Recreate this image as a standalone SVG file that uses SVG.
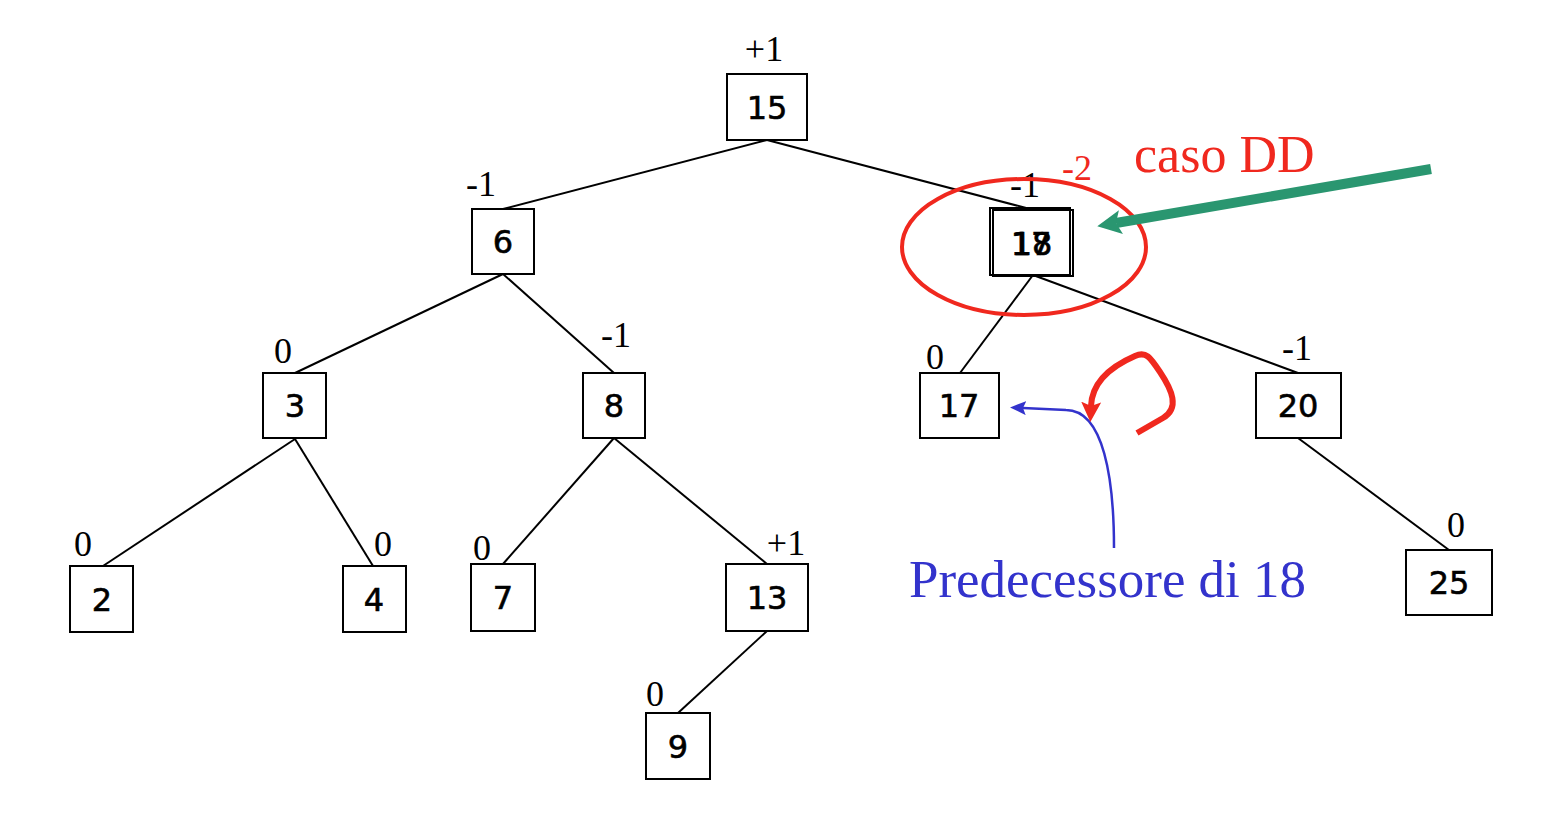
<svg xmlns="http://www.w3.org/2000/svg" width="1550" height="832" viewBox="0 0 1550 832">
<style>
.box{fill:#fff;stroke:#000;stroke-width:2}
.num{font-family:"Comic Sans MS","DejaVu Sans",sans-serif;font-size:32px;text-anchor:middle;fill:#000;stroke:#000;stroke-width:0.6}
.bal{font-family:"Liberation Serif","Times New Roman",serif;font-size:36px;text-anchor:middle;fill:#000}
.edge{stroke:#000;stroke-width:2;fill:none}
</style>
<defs>
<marker id="ag" markerUnits="userSpaceOnUse" markerWidth="26" markerHeight="26" refX="5" refY="12" orient="auto"><path d="M0,0 L24,12 L0,24 L5,12 Z" fill="#2a9670"/></marker>
<marker id="ab" markerUnits="userSpaceOnUse" markerWidth="18" markerHeight="16" refX="3" refY="7" orient="auto"><path d="M0,0 L16,7 L0,14 L3,7 Z" fill="#3333cc"/></marker>
<marker id="ar" markerUnits="userSpaceOnUse" markerWidth="22" markerHeight="22" refX="4" refY="10" orient="auto"><path d="M0,0 L20,10 L0,20 L4,10 Z" fill="#f0281e"/></marker>
</defs>
<g id="connectors">
<line class="edge" x1="767" y1="140" x2="503" y2="209"/>
<line class="edge" x1="767" y1="140" x2="1030" y2="209"/>
<line class="edge" x1="503" y1="274" x2="295" y2="373"/>
<line class="edge" x1="503" y1="274" x2="614" y2="373"/>
<line class="edge" x1="295" y1="439" x2="103" y2="566"/>
<line class="edge" x1="295" y1="439" x2="373" y2="566"/>
<line class="edge" x1="614" y1="438" x2="503" y2="564"/>
<line class="edge" x1="614" y1="438" x2="767" y2="564"/>
<line class="edge" x1="767" y1="631" x2="678" y2="713"/>
<line class="edge" x1="1033" y1="275" x2="960" y2="373"/>
<line class="edge" x1="1033" y1="275" x2="1298" y2="373"/>
<line class="edge" x1="1298" y1="438" x2="1449" y2="550"/>
</g>
<g id="n15"><rect class="box" x="727" y="74" width="80" height="66"/><text class="num" x="767" y="119">15</text><text class="bal" x="764" y="61">+1</text></g>
<g id="n6"><rect class="box" x="472" y="209" width="62" height="65"/><text class="num" x="503" y="253">6</text><text class="bal" x="481" y="196">-1</text></g>
<g id="n18"><rect class="box" x="990" y="208" width="80" height="67"/><rect class="box" x="993" y="210" width="80" height="66" style="fill:none"/><text class="num" x="1031" y="255">17</text><text class="num" x="1032" y="255">18</text><text class="bal" x="1025" y="197">-1</text><text class="bal" x="1077" y="180" style="fill:#f0281e">-2</text></g>
<g id="n3"><rect class="box" x="263" y="373" width="63" height="65"/><text class="num" x="295" y="417">3</text><text class="bal" x="283" y="363">0</text></g>
<g id="n8"><rect class="box" x="583" y="373" width="62" height="65"/><text class="num" x="614" y="417">8</text><text class="bal" x="616" y="347">-1</text></g>
<g id="n17"><rect class="box" x="920" y="373" width="79" height="65"/><text class="num" x="959" y="417">17</text><text class="bal" x="935" y="369">0</text></g>
<g id="n20"><rect class="box" x="1256" y="373" width="85" height="65"/><text class="num" x="1298" y="417">20</text><text class="bal" x="1297" y="360">-1</text></g>
<g id="n2"><rect class="box" x="70" y="566" width="63" height="66"/><text class="num" x="102" y="611">2</text><text class="bal" x="83" y="556">0</text></g>
<g id="n4"><rect class="box" x="343" y="566" width="63" height="66"/><text class="num" x="374" y="611">4</text><text class="bal" x="383" y="556">0</text></g>
<g id="n7"><rect class="box" x="471" y="564" width="64" height="67"/><text class="num" x="503" y="609">7</text><text class="bal" x="482" y="560">0</text></g>
<g id="n13"><rect class="box" x="726" y="564" width="82" height="67"/><text class="num" x="767" y="609">13</text><text class="bal" x="786" y="555">+1</text></g>
<g id="n9"><rect class="box" x="646" y="713" width="64" height="66"/><text class="num" x="678" y="758">9</text><text class="bal" x="655" y="706">0</text></g>
<g id="n25"><rect class="box" x="1406" y="550" width="86" height="65"/><text class="num" x="1449" y="594">25</text><text class="bal" x="1456" y="537">0</text></g>
<g id="annotations">
<ellipse cx="1024" cy="247" rx="122" ry="68" fill="none" stroke="#f0281e" stroke-width="4"/>
<text x="1134" y="172" font-family="Liberation Serif, Times New Roman, serif" font-size="52" fill="#f0281e">caso DD</text>
<line x1="1431" y1="169" x2="1116" y2="223" stroke="#2a9670" stroke-width="10" marker-end="url(#ag)"/>
<text x="909" y="597" font-family="Liberation Serif, Times New Roman, serif" font-size="52" fill="#3333cc" textLength="397" lengthAdjust="spacingAndGlyphs">Predecessore di 18</text>
<path d="M1114,548 C1114,480 1104,410 1066,410 L1023,408" fill="none" stroke="#3333cc" stroke-width="2.5" marker-end="url(#ab)"/>
<path d="M1137,433 L1163,418 C1180,408 1172,390 1160,372 C1150,357 1146,351 1135,356 C1112,366 1092,382 1091,406" fill="none" stroke="#f0281e" stroke-width="6" marker-end="url(#ar)"/>
</g>
</svg>
